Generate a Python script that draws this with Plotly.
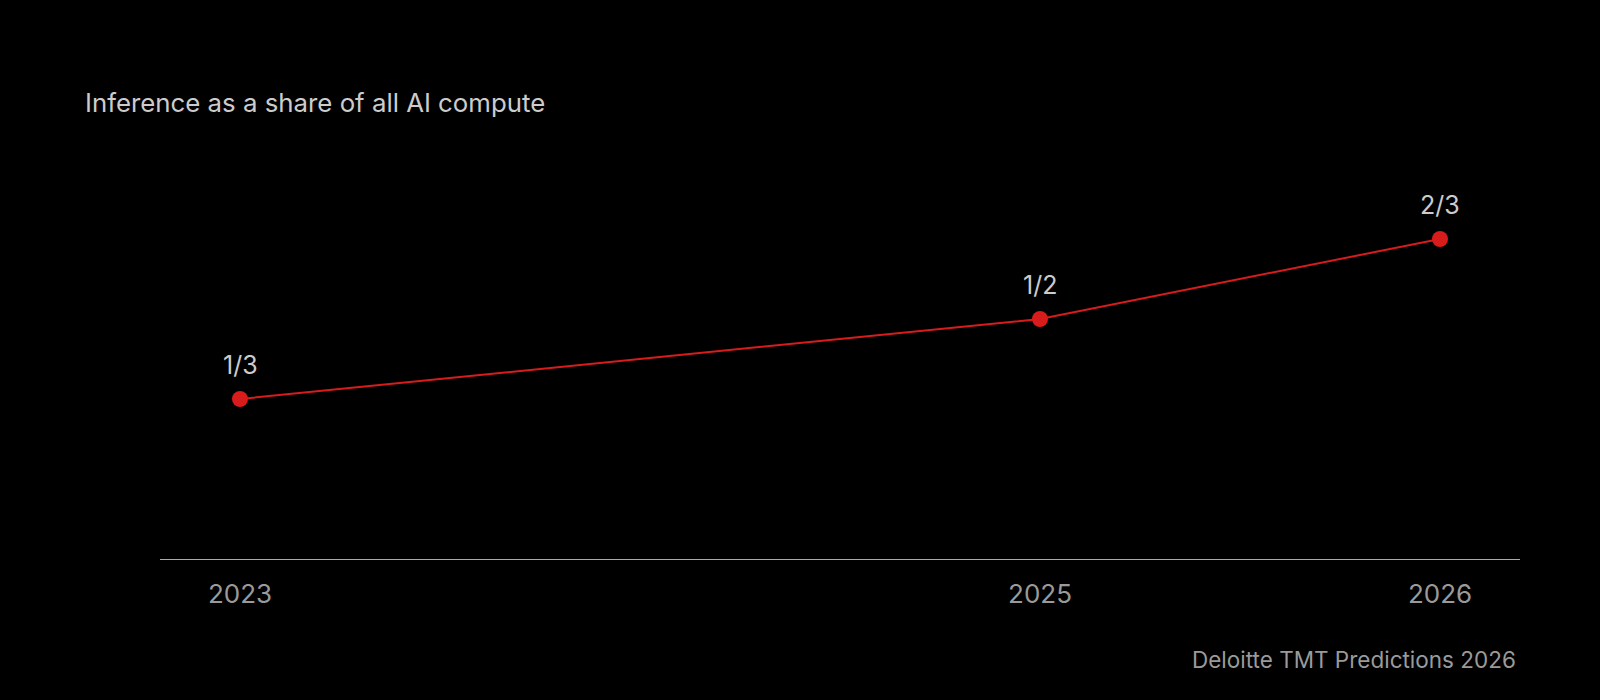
import plotly.graph_objects as go

years = [2023, 2025, 2026]
shares = [1/3, 1/2, 2/3]
share_labels = ["1/3", "1/2", "2/3"]
tick_labels = ["2023", "2025", "2026"]

title_text = "Inference as a share of all AI compute"
source_text = "Deloitte TMT Predictions 2026"

FONT = "Inter, Roboto, sans-serif"
RED = "#d81b1b"

fig = go.Figure()
fig.add_trace(go.Scatter(
    x=years, y=shares, mode="lines+markers",
    line=dict(color=RED, width=2),
    marker=dict(color=RED, size=16),
    hoverinfo="skip", showlegend=False,
))

for x, y, t in zip(years, shares, share_labels):
    fig.add_annotation(x=x, y=y, text=t, showarrow=False, yshift=34,
                       font=dict(family=FONT, size=25, color="#cccccc"))

fig.add_annotation(xref="paper", yref="paper", x=-0.0566, xanchor="left",
                   y=0.952, yanchor="middle", text=title_text, showarrow=False,
                   font=dict(family=FONT, size=25.8, color="#cccccc"))
fig.add_annotation(xref="paper", yref="paper", x=0.9985, xanchor="right",
                   y=-0.21, yanchor="middle", text=source_text, showarrow=False,
                   font=dict(family=FONT, size=22.5, color="#9a9a9a"))

fig.update_layout(
    width=1600, height=700,
    paper_bgcolor="#000000", plot_bgcolor="#000000",
    margin=dict(l=160, r=80, t=79, b=141),
    xaxis=dict(range=[2022.8, 2026.2], tickvals=years, ticktext=tick_labels,
               showgrid=False, zeroline=False, showline=True,
               linecolor="#aaaaaa", linewidth=1,
               ticks="outside", ticklen=0, ticklabelstandoff=12,
               tickfont=dict(family=FONT, size=26, color="#9a9a9a")),
    yaxis=dict(range=[0, 1], visible=False, showgrid=False, zeroline=False),
)

fig.write_html("out.html", config={"displayModeBar": False},
               post_script="document.body.style.margin='0';document.body.style.background='#000';")
